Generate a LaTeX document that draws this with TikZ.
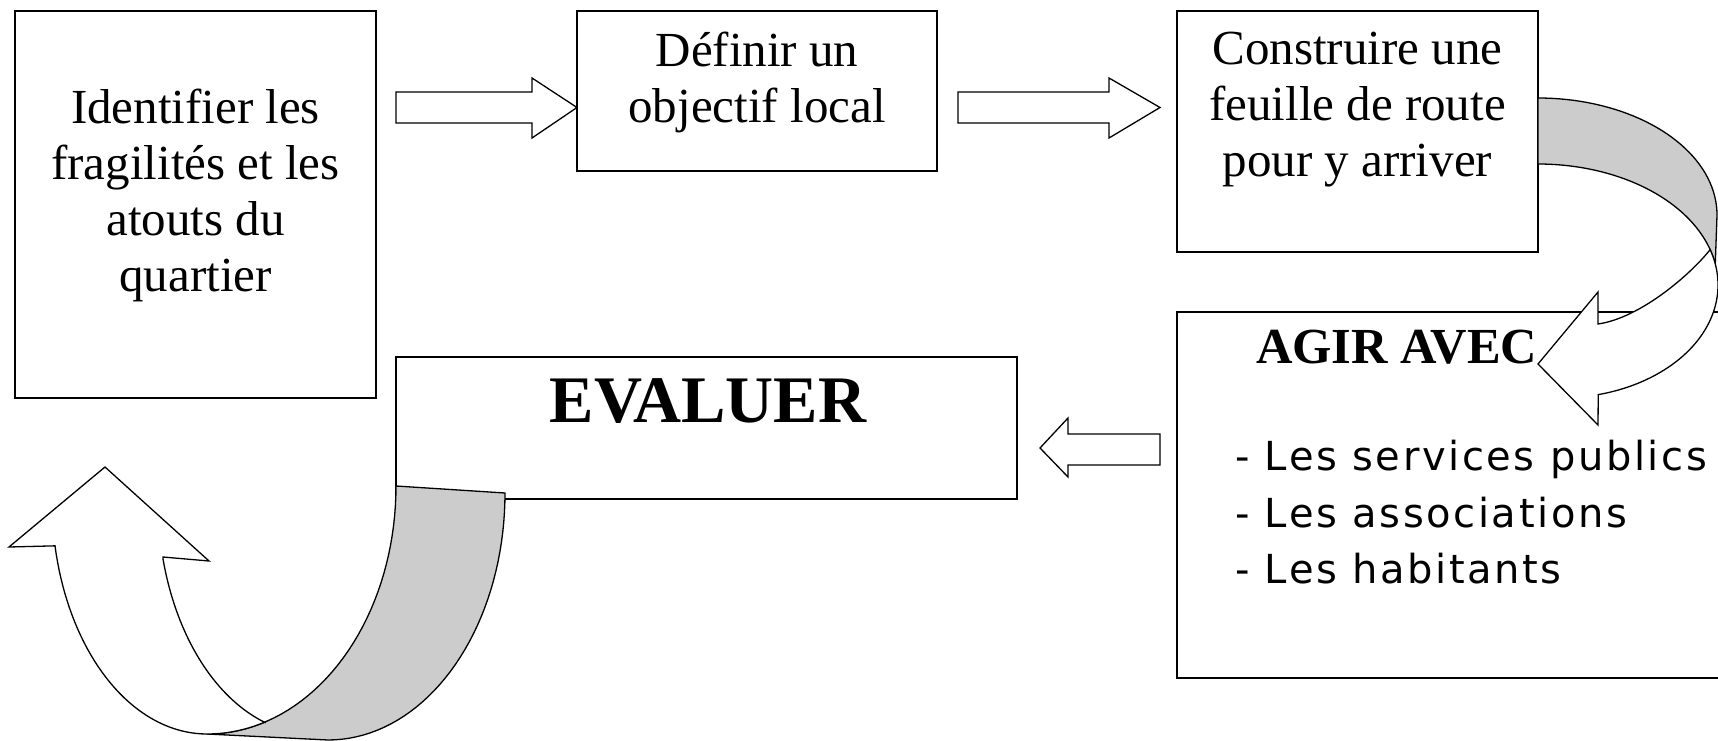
\documentclass[tikz,border=0pt]{standalone}
\usepackage{fontspec}
\setmainfont{Liberation Serif}
\newfontfamily\listfont[LetterSpace=6.5]{DejaVu Sans}
\definecolor{backgray}{RGB}{204,204,204}
\begin{document}
\begin{tikzpicture}[x=1pt,y=-1pt]
\tikzset{
  box/.style={draw, line width=2pt, inner sep=0pt, fill=white},
  boxtext/.style={font=\fontsize{49}{56}\selectfont, align=center, inner sep=0pt, anchor=north},
  blockarrow/.style={draw, line width=1.3pt, fill=white, line join=miter},
  backband/.style={draw, line width=1.3pt, fill=backgray, line join=miter},
  listline/.style={font=\listfont\fontsize{40}{56.5}\selectfont, inner sep=0pt, anchor=base west},
}
\useasboundingbox (0,0) rectangle (1718,741);

% boxes
\node[box, minimum width=361pt, minimum height=387pt] (b1) at (195.5,204.5) {};
\node[box, minimum width=360pt, minimum height=160pt] (b2) at (757,91) {};
\node[box, minimum width=361pt, minimum height=241pt] (b3) at (1357.5,131.5) {};
\node[box, minimum width=583pt, minimum height=366pt] (b4) at (1468.5,495) {};
\node[box, minimum width=621pt, minimum height=142pt] (b5) at (706.5,428) {};

% texts
\node[boxtext] (t1) at (195.5,88.5) {Identifier les\\fragilités et les\\atouts du\\quartier};
\node[boxtext] (t2) at (757,31.5) {Définir un\\objectif local};
\node[boxtext] (t3) at (1357.5,31.5) {Construire une\\feuille de route\\pour y arriver};
\node[font=\bfseries\fontsize{66.5}{74}\selectfont, inner sep=0pt, anchor=base] (t5) at (708,422) {EVALUER};
\node[font=\bfseries\fontsize{50.5}{58}\selectfont, inner sep=0pt, anchor=base west] (t4) at (1256,363) {AGIR AVEC};
\node[listline] (l1) at (1235,470) {- Les services publics};
\node[listline] (l2) at (1235,527) {- Les associations};
\node[listline] (l3) at (1235,583) {- Les habitants};

% block arrows
\draw[blockarrow] (396,92) -- (532,92) -- (532,78) -- (577,107.5) -- (532,138) -- (532,123) -- (396,123) -- cycle;
\draw[blockarrow] (958,92) -- (1109,92) -- (1109,78) -- (1160,107.5) -- (1109,138) -- (1109,123) -- (958,123) -- cycle;
\draw[blockarrow] (1160,434) -- (1068,434) -- (1068,418) -- (1040,448) -- (1068,477) -- (1068,465) -- (1160,465) -- cycle;

% curved arrow, top right
\draw[backband] (1538,98)
  -- plot[domain=0:90, samples=40] ({1538+179*sin(\x)},{215-117*cos(\x)})
  -- ({1538+180*sin(80)},{285-121*cos(80)})
  -- plot[domain=80:0, samples=40] ({1538+180*sin(\x)},{285-121*cos(\x)})
  -- cycle;
\draw[blockarrow] (1598,324) -- (1598,292) -- (1538,364) -- (1598,425)
  -- plot[domain=166:90, samples=40] ({1560+158*sin(\x)},{285-113*cos(\x)})
  -- plot[domain=90:73, samples=20] ({1538+180*sin(\x)},{285-121*cos(\x)})
  .. controls (1690,275) and (1640,318) .. (1598,324) -- cycle;

% curved arrow, bottom left
\draw[backband] (396,486) -- (505,493)
  -- plot[domain=90:180, samples=40] ({328+177*sin(\x)},{493-247*cos(\x)})
  -- (207,734)
  -- plot[domain=180:90, samples=40] ({207+189*sin(\x)},{486-248*cos(\x)})
  -- cycle;
\draw[blockarrow] (9,547) -- (105,467) -- (209,561) -- (163,557)
  -- plot[domain=255.4:198, samples=40] ({313+155*sin(\x)},{500-234*cos(\x)})
  -- plot[domain=162:180, samples=20] ({207+189*sin(\x)},{486-248*cos(\x)})
  -- plot[domain=180:258.7, samples=40] ({207+155*sin(\x)},{500-234*cos(\x)})
  -- cycle;
\end{tikzpicture}
\end{document}
